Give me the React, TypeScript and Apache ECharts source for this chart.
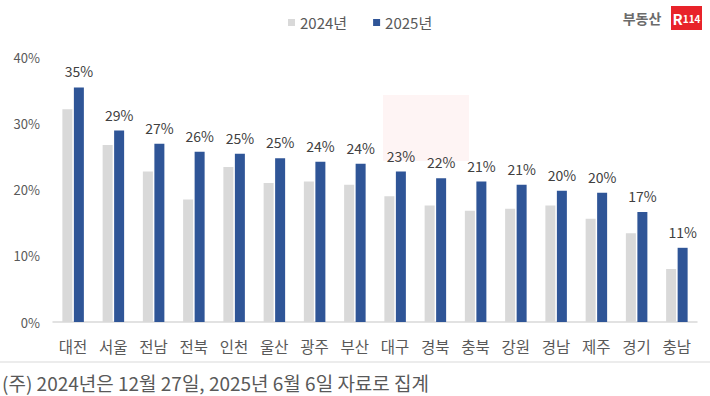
import React, { useEffect, useRef } from "react";
import * as echarts from "echarts";

const categories = ["대전", "서울", "전남", "전북", "인천", "울산", "광주", "부산", "대구", "경북", "충북", "강원", "경남", "제주", "경기", "충남"];
const values2024 = [32.1, 26.7, 22.7, 18.5, 23.4, 21.0, 21.2, 20.7, 19.0, 17.6, 16.8, 17.1, 17.6, 15.6, 13.4, 8.0];
const values2025 = [35.4, 28.9, 26.9, 25.7, 25.4, 24.7, 24.2, 23.9, 22.7, 21.7, 21.2, 20.7, 19.8, 19.5, 16.6, 11.2];
const seriesNames = ["2024년", "2025년"];
const yTicks = { min: 0, max: 40, interval: 10 };
const footnote = "(주) 2024년은 12월 27일, 2025년 6월 6일 자료로 집계";

const FONT = "'Noto Sans CJK KR', 'Noto Sans', sans-serif";

export default function App() {
  const ref = useRef<HTMLDivElement>(null);
  useEffect(() => {
    document.body.style.margin = "0";
    const chart = echarts.init(ref.current!, null, { renderer: "svg" });
    chart.setOption({
      animation: false,
      backgroundColor: "#ffffff",
      textStyle: { fontFamily: FONT },
      legend: {
        data: seriesNames,
        left: 283,
        top: 10,
        itemWidth: 7,
        itemHeight: 7,
        itemGap: 26,
        icon: "rect",
        textStyle: { fontSize: 15, color: "#595959", fontFamily: FONT },
      },
      grid: { left: 53, right: 13, top: 57, bottom: 74, containLabel: false },
      xAxis: {
        type: "category",
        data: categories,
        axisLine: { show: true, lineStyle: { color: "#d9d9d9", width: 1.5 } },
        axisTick: { show: false },
        axisLabel: { color: "#595959", fontSize: 15.5, margin: 16, fontFamily: FONT },
      },
      yAxis: {
        type: "value",
        min: yTicks.min,
        max: yTicks.max,
        interval: yTicks.interval,
        splitLine: { show: false },
        axisLine: { show: false },
        axisTick: { show: false },
        axisLabel: { color: "#595959", fontSize: 13, margin: 13, formatter: "{value}%", fontFamily: FONT },
      },
      series: [
        {
          name: seriesNames[0],
          type: "bar",
          data: values2024,
          barWidth: 10,
          barGap: "15%",
          itemStyle: { color: "#d9d9d9" },
        },
        {
          name: seriesNames[1],
          type: "bar",
          data: values2025,
          barWidth: 10,
          barGap: "15%",
          itemStyle: { color: "#2f5597" },
          label: {
            show: true,
            position: "top",
            distance: 9,
            color: "#404040",
            fontSize: 14,
            fontFamily: FONT,
            formatter: (p: any) => Math.round(p.value) + "%",
          },
        },
      ],
      graphic: [
        {
          type: "rect",
          shape: { x: 383, y: 95, width: 86, height: 66 },
          style: { fill: "rgba(232,35,42,0.05)" },
          z: 0,
          silent: true,
        },
        {
          type: "text",
          x: 642,
          y: 18,
          style: { text: "부동산", fill: "#6b6b6b", font: `bold 14px ${FONT}`, textAlign: "center", textVerticalAlign: "middle" },
        },
        {
          type: "rect",
          shape: { x: 671, y: 6, width: 31, height: 24 },
          style: { fill: "#e8232a" },
        },
        {
          type: "text",
          x: 686.5,
          y: 18,
          style: {
            text: "{a|R}{b|114}",
            rich: {
              a: { fill: "#ffffff", fontSize: 15, fontWeight: "bold", fontFamily: FONT },
              b: { fill: "#ffffff", fontSize: 10, fontWeight: "bold", fontFamily: FONT },
            },
            textAlign: "center",
            textVerticalAlign: "middle",
          },
        },
        {
          type: "line",
          shape: { x1: 0, y1: 362, x2: 710, y2: 362 },
          style: { stroke: "#e6e6e6", lineWidth: 1.5 },
        },
        {
          type: "text",
          x: 2,
          y: 382,
          style: { text: footnote, fill: "#595959", font: `19px ${FONT}`, textAlign: "left", textVerticalAlign: "middle" },
        },
      ],
    });
    return () => chart.dispose();
  }, []);
  return <div ref={ref} style={{ position: "fixed", left: 0, top: 0, width: 710, height: 396 }} />;
}
